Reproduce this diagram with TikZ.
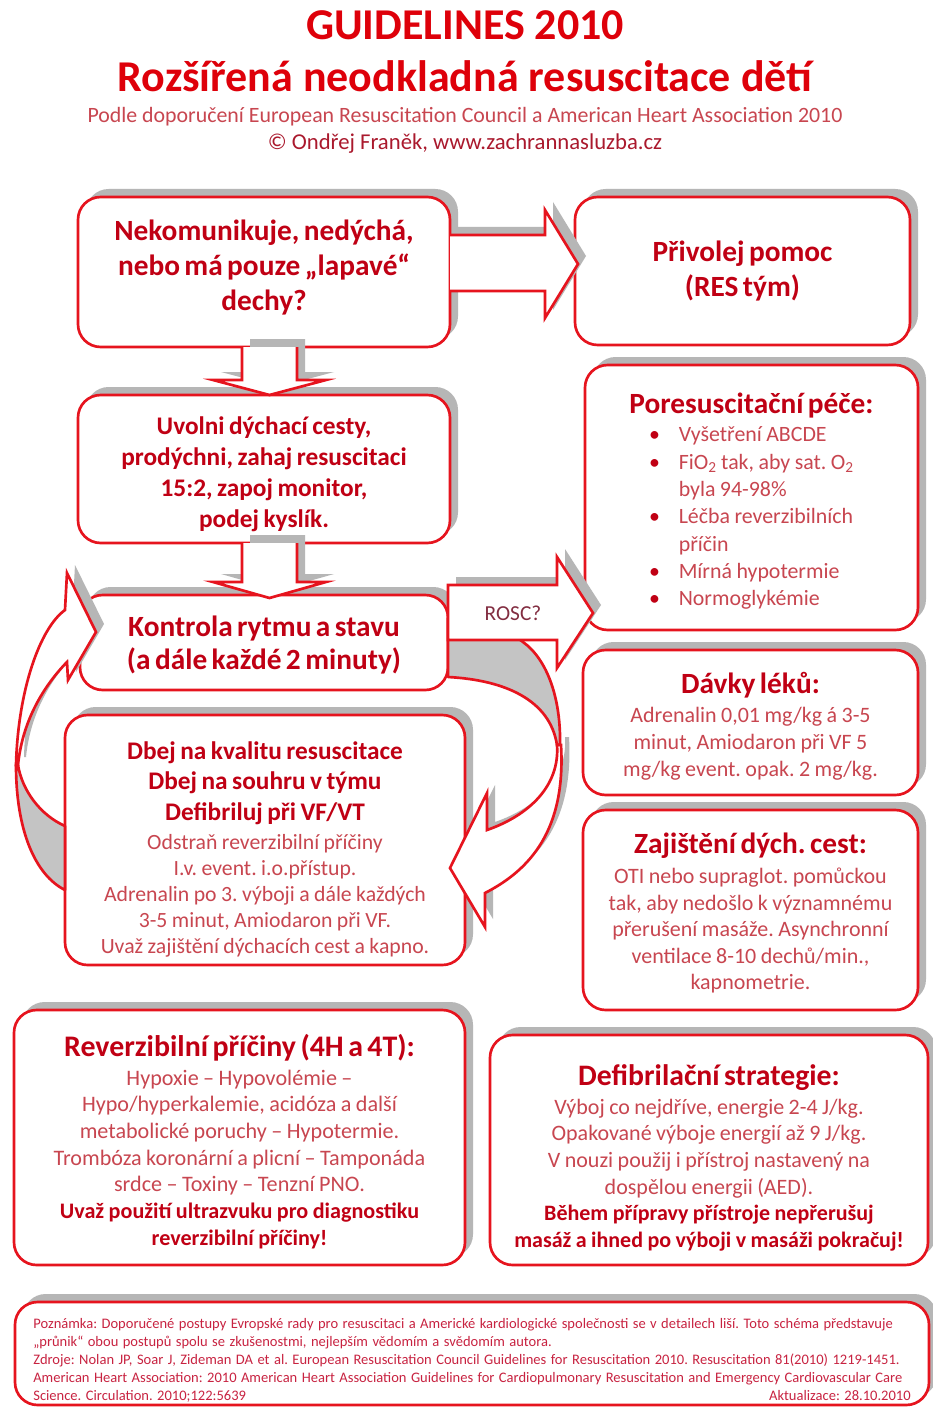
\documentclass[tikz,border=0pt]{standalone}
\usepackage{fontspec}
\setmainfont{Carlito}
\usetikzlibrary{shadows}
\definecolor{bordred}{RGB}{230,20,30}
\definecolor{titlered}{RGB}{222,0,10}
\definecolor{darkred}{RGB}{192,0,20}
\definecolor{softred}{RGB}{200,70,80}
\definecolor{copyred}{RGB}{170,25,45}
\definecolor{footred}{RGB}{200,35,65}
\definecolor{roscgray}{RGB}{130,45,65}
\definecolor{shadowgray}{RGB}{182,182,182}
\definecolor{backgray}{RGB}{196,196,196}
\newcommand\setfs[2]{\fontsize{#1pt}{#2pt}\selectfont}
\newcommand\tshift[1]{\par\vspace*{#1pt}}
\frenchspacing
\begin{document}
\frenchspacing
\begin{tikzpicture}[x=0.75pt,y=-0.75pt,
  shad/.style={drop shadow={shadow xshift=6pt,shadow yshift=6pt,fill=shadowgray,opacity=1}},
  box/.style={shad,draw=bordred,line width=2pt,fill=white,rounded corners=17pt,
    inner sep=0pt,outer sep=0pt,align=center,text=softred},
  barrow/.style={shad,draw=bordred,line width=2pt,fill=white,line join=miter},
  bback/.style={draw=bordred,line width=2pt,fill=backgray,line join=round},
  bfront/.style={shad,draw=bordred,line width=2pt,fill=white,line join=miter}]
\fill[white] (0,0) rectangle (932,1412);
\useasboundingbox (0,0) rectangle (932,1412);

% titles
\node[anchor=base,text=titlered,font=\setfs{33}{36}\bfseries] (t1) at (465,40) {GUIDELINES 2010};
\node[anchor=base,text=titlered,font=\setfs{33}{36}\bfseries] (t2) at (465,92) {Rozšířená neodkladná resuscitace dětí};
\node[anchor=base,text=softred,font=\setfs{16.4}{19}] (t3) at (465,123) {Podle doporučení European Resuscitation Council a American Heart Association 2010};
\node[anchor=base,text=copyred,font=\setfs{17}{19}] (t4) at (465,150) {© Ondřej Franěk, www.zachrannasluzba.cz};

% boxes
\node[box,minimum width=279pt,minimum height=112.5pt,text width=265pt] (n1) at (264,272)
  {{\setfs{22}{26.25}\bfseries\color{darkred}Nekomunikuje, nedýchá,\\ nebo má pouze „lapavé“\\ dechy?\par}\tshift{6}};
\node[box,minimum width=251.25pt,minimum height=111pt,text width=240pt] (n2) at (742.5,271)
  {{\setfs{22}{26.25}\bfseries\color{darkred}Přivolej pomoc\\ (RES tým)\par}};
\node[box,minimum width=279pt,minimum height=111pt,text width=265pt] (n3) at (264,469)
  {{\setfs{19}{23.25}\bfseries\color{darkred}Uvolni dýchací cesty,\\ prodýchni, zahaj resuscitaci\\ 15:2, zapoj monitor,\\ podej kyslík.\par}\tshift{-7.5}};
\node[box,minimum width=249.75pt,minimum height=198.75pt,text width=240pt] (n4) at (751.5,497.5)
  {{\setfs{22}{26}\bfseries\color{darkred}Poresuscitační péče:\par}\vspace{0.5pt}
   {\setfs{16.4}{20.5}\begin{tabular}[t]{@{}l@{\hspace{14pt}}l@{}}
   {\color{darkred}•}&Vyšetření ABCDE\\
   {\color{darkred}•}&FiO\textsubscript{2} tak, aby sat. O\textsubscript{2}\\
   &byla 94-98\%\\
   {\color{darkred}•}&Léčba reverzibilních\\
   &příčin\\
   {\color{darkred}•}&Mírná hypotermie\\
   {\color{darkred}•}&Normoglykémie
   \end{tabular}\par}\tshift{-9}};
\node[box,minimum width=276pt,minimum height=71.25pt,text width=265pt] (n5) at (264,642.5)
  {{\setfs{22}{24.75}\bfseries\color{darkred}Kontrola rytmu a stavu\\ (a dále každé 2 minuty)\par}\tshift{-4.5}};
\node[box,minimum width=300pt,minimum height=187.5pt,text width=294pt] (n6) at (265,840)
  {{\setfs{19}{22.9}\bfseries\color{darkred}Dbej na kvalitu resuscitace\\ Dbej na souhru v týmu\\ Defibriluj při VF/VT\par}\vspace{2.25pt}
   {\setfs{16.3}{19.5}Odstraň reverzibilní příčiny\\ I.v. event. i.o.přístup.\\ Adrenalin po 3. výboji a dále každých\\ 3-5 minut, Amiodaron při VF.\\ Uvaž zajištění dýchacích cest a kapno.\par}\tshift{-14}};
\node[box,minimum width=251.25pt,minimum height=108.75pt,text width=245pt] (n7) at (750.5,722.5)
  {{\setfs{22}{26}\bfseries\color{darkred}Dávky léků:\par}\vspace{1.5pt}
   {\setfs{16.5}{20.25}Adrenalin 0,01 mg/kg á 3-5\\ minut, Amiodaron při VF 5\\ mg/kg event. opak. 2 mg/kg.\par}\tshift{-6}};
\node[box,minimum width=251.25pt,minimum height=150pt,text width=248pt] (n8) at (750.5,910)
  {{\setfs{22}{26}\bfseries\color{darkred}Zajištění dých. cest:\par}\vspace{3pt}
   {\setfs{16.5}{19.9}OTI nebo supraglot. pomůckou\\ tak, aby nedošlo k významnému\\ přerušení masáže. Asynchronní\\ ventilace 8-10 dechů/min.,\\ kapnometrie.\par}\tshift{-4.5}};
\node[box,minimum width=338.25pt,minimum height=191.25pt,text width=334pt] (n9) at (239.5,1137.5)
  {{\setfs{22.4}{26}\bfseries\color{darkred}Reverzibilní příčiny (4H a 4T):\par}\vspace{1.5pt}
   {\setfs{16.6}{20}Hypoxie – Hypovolémie –\\ Hypo/hyperkalemie, acidóza a další\\ metabolické poruchy – Hypotermie.\\ Trombóza koronární a plicní – Tamponáda\\ srdce – Toxiny – Tenzní PNO.\par}
   {\setfs{16.6}{20}\bfseries\color{darkred}Uvaž použití ultrazvuku pro diagnostiku\\ reverzibilní příčiny!\par}\tshift{-6}};
\node[box,minimum width=328.5pt,minimum height=172.5pt,text width=326pt] (n10) at (709,1150)
  {{\setfs{22.3}{26}\bfseries\color{darkred}Defibrilační strategie:\par}\vspace{1.5pt}
   {\setfs{16.5}{20}Výboj co nejdříve, energie 2-4 J/kg.\\ Opakované výboje energií až 9 J/kg.\\ V nouzi použij i přístroj nastavený na\\ dospělou energii (AED).\par}
   {\setfs{16.5}{20}\bfseries\color{darkred}Během přípravy přístroje nepřerušuj\\ masáž a ihned po výboji v masáži pokračuj!\par}\tshift{-12}};
\node[box,minimum width=685.5pt,minimum height=77.25pt,text width=658pt,align=left] (n11) at (472,1353.5)
  {{\setfs{10.9}{13.5}\color{footred}Poznámka: Doporučené postupy Evropské rady pro resuscitaci a Americké kardiologické společnosti se v detailech liší. Toto schéma představuje\\
   „průnik“ obou postupů spolu se zkušenostmi, nejlepším vědomím a svědomím autora.\\
   \mbox{Zdroje: Nolan JP, Soar J, Zideman DA et al. European Resuscitation Council Guidelines for Resuscitation 2010. Resuscitation 81(2010) 1219-1451.}\\
   \mbox{American Heart Association: 2010 American Heart Association Guidelines for Cardiopulmonary Resuscitation and Emergency Cardiovascular Care}\\
   Science. Circulation. 2010;122:5639\hskip 0pt plus 1fill Aktualizace: 28.10.2010\par}\tshift{-10.5}};

% straight block arrows
\path[barrow] (450,235) -- (545,235) -- (545,210) -- (578,264) -- (545,318) -- (545,291) -- (450,291);
\path[barrow] (242,347) -- (242,380) -- (213,380) -- (269.5,395) -- (326,380) -- (297,380) -- (297,347);
\path[barrow] (242,543) -- (242,582) -- (213,582) -- (269.5,598) -- (326,582) -- (297,582) -- (297,543);

% left curved arrow
\path[bback] (16,765) .. controls (16,830) and (35,875) .. (65,890) -- (65,826)
  .. controls (40,815) and (22,790) .. (18,765) -- cycle;
\path[bfront] (16,765) .. controls (18,690) and (40,628) .. (65,610) -- (67,573) -- (96,632)
  -- (68,680) -- (67,662) .. controls (40,690) and (22,725) .. (18,765) -- cycle;

% right curved arrow (back part)
\path[bback] (560,745) .. controls (561,700) and (548,660) .. (523,642)
  .. controls (505,628) and (480,620) .. (448,618) -- (448,677)
  .. controls (505,680) and (550,700) .. (557,745) -- cycle;

% ROSC arrow
\path[barrow] (448,585) -- (557,585) -- (557,557) -- (593,613) -- (557,668) -- (557,640) -- (448,640) -- cycle;
\node[text=roscgray,font=\setfs{16}{18}] (rosc) at (513,613) {ROSC?};

% right curved arrow (front part)
\path[bfront] (557,745) .. controls (560,785) and (530,815) .. (487,830) -- (487,793) -- (450,868)
  -- (485,927) -- (485,893) .. controls (530,870) and (566,830) .. (561,745) -- cycle;
\end{tikzpicture}
\end{document}
